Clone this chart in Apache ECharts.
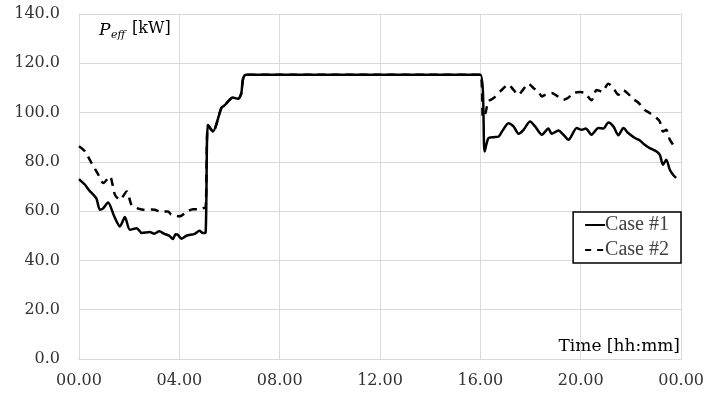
<!DOCTYPE html>
<html>
<head>
<meta charset="utf-8">
<script src="https://cdn.jsdelivr.net/npm/echarts@6/dist/echarts.min.js"></script>
<style>
html,body{margin:0;padding:0;background:#fff;}
#chart{width:707px;height:398px;}
</style>
</head>
<body>
<div id="chart"></div>
<script>
// ---- data (time in hours, power in kW) ----
var case1Time = [0,0.24,0.4,0.57,0.7,0.83,0.95,1.16,1.4,1.63,1.83,2.03,2.3,2.5,2.82,3.0,3.2,3.4,3.6,3.74,3.85,3.94,4.08,4.28,4.61,4.8,4.94,5.05,5.14,5.34,5.67,5.8,6.13,6.33,6.46,6.66,16.0,16.17,16.32,16.53,16.73,16.86,17.12,17.32,17.52,17.72,17.98,18.18,18.45,18.71,18.84,19.11,19.31,19.51,19.84,20.04,20.2,20.43,20.7,20.9,21.1,21.3,21.5,21.7,21.89,22.16,22.36,22.55,22.75,23.02,23.15,23.28,23.41,23.55,23.68,23.8];
var case1Power = [73.0,70.7,68.5,66.7,65.0,60.6,61.0,63.5,58.0,53.8,57.6,52.4,53.1,51.1,51.5,50.8,51.8,50.8,50.0,48.7,50.6,50.4,48.8,50.0,50.8,52.0,51.1,51.5,95.0,92.3,101.8,102.9,106.1,105.6,107.5,115.3,115.3,84.2,89.6,90.0,90.3,92.3,95.7,94.4,91.4,93.0,96.4,94.4,91.0,93.5,91.4,92.7,91.0,89.0,93.7,93.0,93.5,91.0,93.7,93.5,96.0,94.4,90.8,93.7,91.7,89.7,88.7,86.9,85.6,84.2,82.9,78.8,80.9,76.8,74.8,73.5];

var case2Time = [0,0.24,0.5,0.77,0.97,1.23,1.43,1.63,1.9,2.09,2.29,2.56,2.89,3.02,3.22,3.55,3.68,4.01,4.28,4.54,4.81,4.94,5.05,5.14,5.34,5.67,5.8,6.13,6.33,6.46,6.66,16.0,16.1,16.2,16.32,16.53,16.79,17.12,17.32,17.52,17.65,17.92,18.12,18.31,18.45,18.58,18.84,19.05,19.31,19.5,19.7,19.97,20.17,20.43,20.63,20.85,21.1,21.3,21.5,21.7,21.9,22.09,22.29,22.55,22.75,23.02,23.15,23.28,23.41,23.55,23.75];
var case2Power = [86.3,84.2,79.5,74.8,71.4,74.1,66.7,64.6,68.0,62.6,61.3,60.6,60.7,60.6,59.9,59.9,58.5,57.9,59.6,60.8,60.8,61.2,61.5,95.0,92.3,101.8,102.9,106.1,105.6,107.5,115.3,115.3,98.0,99.8,104.5,105.9,108.6,111.3,109.2,107.2,108.6,111.7,109.9,108.6,106.5,107.2,107.9,106.8,105.2,106.0,107.9,108.3,107.9,105.0,109.2,108.5,111.7,109.9,107.2,109.0,107.5,105.5,104.1,101.1,99.8,97.8,96.4,92.3,93.0,89.0,86.0];

var seriesNames = ['Case #1','Case #2'];
var xTickLabels = ['00.00','04.00','08.00','12.00','16.00','20.00','00.00'];
var yTickLabels = ['0.0','20.0','40.0','60.0','80.0','100.0','120.0','140.0'];
var yAxisTitle = ['P','eff','[kW]'];
var xAxisTitle = 'Time [hh:mm]';

function pairs(t, v){ return t.map(function(x,i){ return [x, v[i]]; }); }

var chart = echarts.init(document.getElementById('chart'), null, {renderer:'canvas'});
var labelFont = 'DejaVu Serif';
var gridColor = '#d9d9d9';

chart.setOption({
  animation:false,
  backgroundColor:'#ffffff',
  grid:{left:79,right:24,top:14,bottom:39,containLabel:false},
  xAxis:{
    type:'value',min:0,max:24,interval:4,
    axisLine:{show:true,lineStyle:{color:gridColor,width:1}},
    axisTick:{show:false},
    splitLine:{show:true,lineStyle:{color:gridColor,width:1}},
    axisLabel:{
      margin:14,color:'#333333',fontFamily:labelFont,fontSize:16,
      formatter:function(v){ return xTickLabels[Math.round(v/4)]; }
    }
  },
  yAxis:{
    type:'value',min:0,max:140,interval:20,
    axisLine:{show:true,lineStyle:{color:gridColor,width:1}},
    axisTick:{show:false},
    splitLine:{show:true,lineStyle:{color:gridColor,width:1}},
    axisLabel:{
      margin:19,color:'#333333',fontFamily:labelFont,fontSize:16,
      formatter:function(v){ return yTickLabels[Math.round(v/20)]; }
    }
  },
  legend:{
    orient:'vertical',
    right:26,top:212,
    backgroundColor:'#ffffff',
    borderColor:'#000000',borderWidth:1.5,borderRadius:0,
    padding:[3,12,3,12],
    itemGap:5,
    itemWidth:20,itemHeight:2,
    textStyle:{fontFamily:'Liberation Serif',fontSize:20,color:'#404040',padding:[0,0,0,-5]},
    data:[
      {name:seriesNames[0],icon:'path://M0,0L20,0L20,2L0,2Z'},
      {name:seriesNames[1],icon:'path://M0,0L6,0L6,2L0,2ZM12,0L18,0L18,2L12,2Z M19.9,0L20,0L20,2L19.9,2Z'}
    ]
  },
  series:[
    {
      name:seriesNames[0],type:'line',data:pairs(case1Time,case1Power),
      showSymbol:false,symbol:'none',smooth:0.25,
      lineStyle:{color:'#000000',width:2.5,type:'solid'},
      itemStyle:{color:'#000000'},z:2
    },
    {
      name:seriesNames[1],type:'line',data:pairs(case2Time,case2Power),
      showSymbol:false,symbol:'none',smooth:0.25,
      lineStyle:{color:'#000000',width:2.5,type:[8,6]},
      itemStyle:{color:'#000000'},z:3
    }
  ],
  graphic:[
    {type:'text',left:99,top:22,style:{text:yAxisTitle[0],font:'italic 17px DejaVu Serif',fill:'#000'}},
    {type:'text',left:111,top:30,style:{text:yAxisTitle[1],font:'italic 11px DejaVu Serif',fill:'#000'}},
    {type:'text',left:132,top:21,style:{text:yAxisTitle[2],font:'16px DejaVu Serif',fill:'#000'}},
    {type:'text',right:27,top:338,style:{text:xAxisTitle,font:'17px DejaVu Serif',fill:'#000'}}
  ]
});
</script>
</body>
</html>
